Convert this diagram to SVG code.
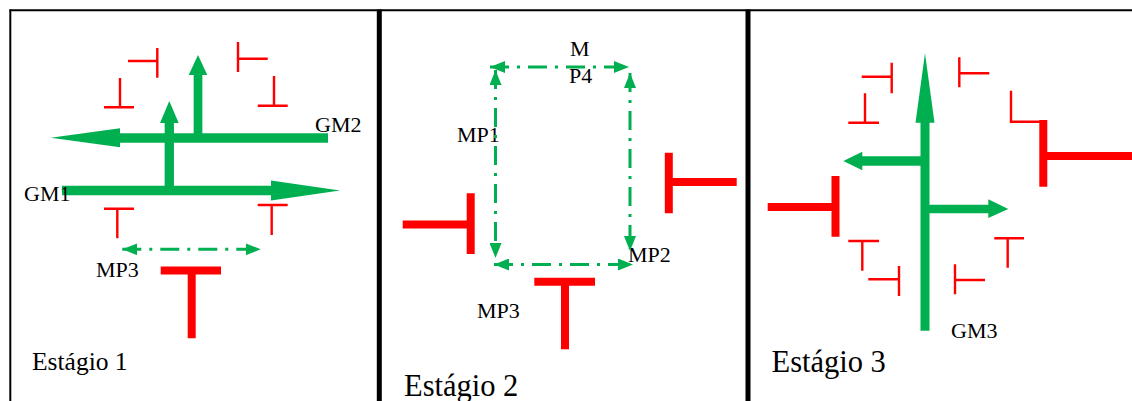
<svg xmlns="http://www.w3.org/2000/svg" width="1132" height="401" viewBox="0 0 1132 401">
<style>
.frame{stroke:#000;fill:none}
.g{fill:#00B050}
.gs{stroke:#00B050;fill:none}
.dd{stroke:#00B050;stroke-width:3;fill:none;stroke-dasharray:19 8 3 8;marker-start:url(#ah);marker-end:url(#ah)}
.rt{stroke:#FF0000;stroke-width:2.4;fill:none}
.rT{stroke:#FF0000;stroke-width:8;fill:none}
.lbl{font-family:"Liberation Serif","Times New Roman",serif;font-size:22px;fill:#000}
.stg{font-family:"Liberation Serif","Times New Roman",serif;fill:#000}
</style>
<defs>
<marker id="ah" viewBox="0 0 15 12" refX="15" refY="6" markerWidth="15" markerHeight="12" markerUnits="userSpaceOnUse" orient="auto-start-reverse">
<path d="M0,0 L15,6 L0,12 z" fill="#00B050"/>
</marker>
</defs>
<rect width="1132" height="401" fill="#fff"/>
<g id="frames">
<line class="frame" x1="9.5" y1="10.3" x2="1132" y2="10.3" stroke-width="2"/>
<line class="frame" x1="10.3" y1="9.5" x2="10.3" y2="401" stroke-width="2"/>
<line class="frame" x1="379.3" y1="9.5" x2="379.3" y2="401" stroke-width="5"/>
<line class="frame" x1="748" y1="9.5" x2="748" y2="401" stroke-width="5"/>
</g>
<!-- Stage 1 -->
<g id="gm2">
<line class="gs" x1="328" y1="138" x2="118" y2="138" stroke-width="9.3"/>
<polygon class="g" points="120,128.3 120,147.3 50.7,137.8"/>
</g>
<g id="gm1">
<line class="gs" x1="62" y1="190.5" x2="273" y2="190.5" stroke-width="9.3"/>
<polygon class="g" points="271,180.5 271,200.5 340,190.5"/>
</g>
<g id="up1">
<line class="gs" x1="169.3" y1="190" x2="169.3" y2="121" stroke-width="9.3"/>
<polygon class="g" points="160,123 178.7,123 169.3,101"/>
</g>
<g id="up2">
<line class="gs" x1="198" y1="138" x2="198" y2="73" stroke-width="8.7"/>
<polygon class="g" points="188.7,75 207.3,75 198,55"/>
</g>
<g id="s1-t1"><path class="rt" d="M128,61 H157.3 M157.3,48 V77.7"/></g>
<g id="s1-t2"><path class="rt" d="M120,78 V107.3 M104,107.3 H134"/></g>
<g id="s1-t3"><path class="rt" d="M238,42 V72 M238,58.7 H267.7"/></g>
<g id="s1-t4"><path class="rt" d="M274,76 V105.7 M257.7,105.7 H287.7"/></g>
<g id="s1-t5"><path class="rt" d="M104,208.7 H134 M117.3,208.7 V238.3"/></g>
<g id="s1-t6"><path class="rt" d="M257.7,205 H287.7 M271.7,205 V235"/></g>
<g id="s1-T"><path class="rT" d="M160.7,270.5 H221 M191.7,270.5 V338.3"/></g>
<text class="lbl" x="315" y="131.5">GM2</text>
<text class="lbl" x="24" y="200.5">GM1</text>
<text class="lbl" x="96" y="276.5">MP3</text>
<text class="stg" x="32" y="370" font-size="25.5">Estágio 1</text>
<!-- Stage 2 -->
<g id="s2-Tleft"><path class="rT" d="M402.7,224.5 H470.7 M470.7,193.3 V254"/></g>
<g id="s2-Tright"><path class="rT" d="M668.8,152.7 V213.3 M668.8,182 H736.7"/></g>
<g id="s2-Tbottom"><path class="rT" d="M534.3,281.8 H595 M565,281.8 V349.3"/></g>
<text class="lbl" x="570" y="56">M</text>
<text class="lbl" x="569" y="82.5">P4</text>
<text class="lbl" x="457" y="141.5">MP1</text>
<text class="lbl" x="628" y="261.5">MP2</text>
<text class="lbl" x="477" y="317.5">MP3</text>
<text class="stg" x="404" y="396" font-size="30.5">Estágio 2</text>
<!-- Stage 3 -->
<g id="gm3">
<line class="gs" x1="925" y1="330.7" x2="925" y2="121" stroke-width="9"/>
<polygon class="g" points="915.5,122.7 934.5,122.7 925,53.3"/>
</g>
<g id="s3-left">
<line class="gs" x1="925" y1="161" x2="860" y2="161" stroke-width="9.5"/>
<polygon class="g" points="862.3,151.7 862.3,170.3 843.3,161"/>
</g>
<g id="s3-right">
<line class="gs" x1="925" y1="209" x2="990" y2="209" stroke-width="8.5"/>
<polygon class="g" points="988.3,199.3 988.3,218 1008.3,209"/>
</g>
<g id="s3-t1"><path class="rt" d="M861.7,76.7 H891.7 M891.7,62.7 V93.3"/></g>
<g id="s3-t2"><path class="rt" d="M865,93.3 V122.7 M848.3,122.7 H879"/></g>
<g id="s3-t3"><path class="rt" d="M959.3,57.3 V87.3 M959.3,73.3 H989.3"/></g>
<g id="s3-L"><path class="rt" d="M1011,90.7 V121.7 H1042"/></g>
<g id="s3-Tright"><path class="rT" d="M1043.3,120 V186.7 M1043.3,156 H1132"/></g>
<g id="s3-Tleft"><path class="rT" d="M767.7,207 H835.5 M835.5,176 V236.7"/></g>
<g id="s3-t4"><path class="rt" d="M848.3,241 H879 M862.3,241 V270.7"/></g>
<g id="s3-t5"><path class="rt" d="M868.3,279.3 H899 M899,266 V296"/></g>
<g id="s3-t6"><path class="rt" d="M955,264.3 V294.3 M955,280 H985"/></g>
<g id="s3-t7"><path class="rt" d="M994.3,238.3 H1024 M1007.7,238.3 V267.7"/></g>
<text class="lbl" x="951" y="338">GM3</text>
<text class="stg" x="771.5" y="371.5" font-size="30.5">Estágio 3</text>
<g id="connectors">
<line class="dd" x1="122.3" y1="249.3" x2="260.7" y2="249.3"/>
<line class="dd" x1="490" y1="67" x2="629" y2="67"/>
<line class="dd" x1="495.5" y1="70" x2="495.5" y2="258"/>
<line class="dd" x1="630" y1="73" x2="630" y2="251"/>
<line class="dd" x1="494" y1="264.5" x2="633" y2="264.5"/>
</g>
</svg>
